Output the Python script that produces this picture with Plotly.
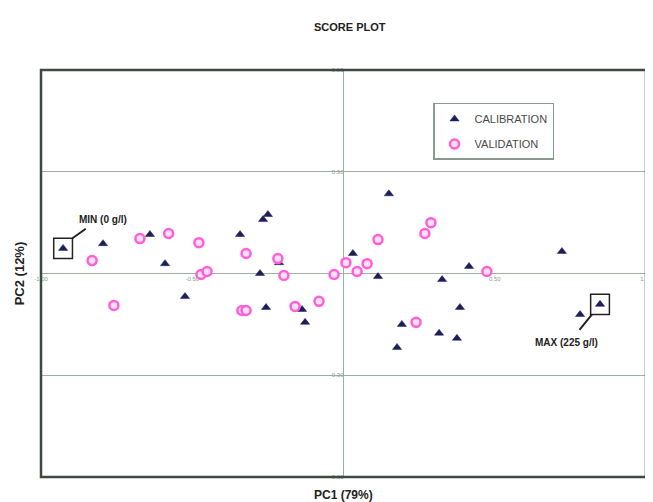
import plotly.graph_objects as go

# PCA scores
cal_x = [-0.927, -0.795, -0.640, -0.590, -0.524, -0.342, -0.266, -0.250, -0.276, -0.213,
         -0.256, -0.137, -0.127, -0.031, 0.150, 0.031, 0.114, 0.326, 0.415, 0.385,
         0.193, 0.177, 0.316, 0.375, 0.722, 0.782, 0.848]
cal_y = [0.074, 0.088, 0.115, 0.029, -0.068, 0.115, 0.159, 0.174, 0.000, 0.032,
         -0.100, -0.106, -0.144, -0.003, 0.235, 0.059, -0.009, -0.018, 0.021, -0.100,
         -0.150, -0.218, -0.176, -0.191, 0.065, -0.121, -0.091]

val_x = [-0.831, -0.759, -0.673, -0.578, -0.478, -0.471, -0.451, -0.322, -0.217, -0.197,
         -0.336, -0.322, -0.160, -0.081, -0.031, 0.008, 0.045, 0.078, 0.114, 0.269,
         0.289, 0.474, 0.240]
val_y = [0.038, -0.094, 0.103, 0.118, 0.091, -0.003, 0.006, 0.059, 0.044, -0.006,
         -0.109, -0.109, -0.097, -0.082, -0.003, 0.032, 0.006, 0.029, 0.100, 0.118,
         0.150, 0.006, -0.144]

x_ticks = [-1.0, -0.5, 0.5, 1.0]
x_tick_labels = ["-1.00", "-0.50", "0.50", "1.00"]
y_ticks = [-0.6, -0.3, 0.3, 0.6]
y_tick_labels = ["-0.60", "-0.30", "0.30", "0.60"]

min_idx = 0
max_idx = 26
min_label = "MIN (0 g/l)"
max_label = "MAX (225 g/l)"

FONT = "Liberation Sans, Arial, sans-serif"
GRID = "#9db3a2"
FRAME = "#3c4a40"

fig = go.Figure()
fig.add_trace(go.Scatter(
    x=cal_x, y=cal_y, mode="markers", name="CALIBRATION",
    legendgroup="a",
    marker=dict(symbol="triangle-up", size=8, color="#1c1f5a",
                line=dict(width=0.5, color="#1c1f5a")),
))
fig.add_trace(go.Scatter(
    x=val_x, y=val_y, mode="markers", name="VALIDATION",
    legendgroup="b",
    marker=dict(symbol="circle", size=9, color="#ffe0f7",
                line=dict(width=2.5, color="#ff5fd8")),
))

dx, dy = 0.031, 0.030
shapes = [
    dict(type="rect", xref="paper", yref="paper", x0=0, y0=0, x1=1, y1=1,
         line=dict(color=FRAME, width=2.5)),
    dict(type="rect", xref="x", yref="y",
         x0=cal_x[min_idx] - dx, x1=cal_x[min_idx] + dx,
         y0=cal_y[min_idx] - dy, y1=cal_y[min_idx] + dy,
         line=dict(color="#222", width=1.5)),
    dict(type="rect", xref="x", yref="y",
         x0=cal_x[max_idx] - dx, x1=cal_x[max_idx] + dx,
         y0=cal_y[max_idx] - dy, y1=cal_y[max_idx] + dy,
         line=dict(color="#222", width=1.5)),
    dict(type="line", xref="x", yref="y",
         x0=cal_x[min_idx] + dx, y0=cal_y[min_idx] + dy,
         x1=cal_x[min_idx] + 0.075, y1=cal_y[min_idx] + 0.058,
         line=dict(color="#222", width=2)),
    dict(type="line", xref="x", yref="y",
         x0=cal_x[max_idx] - 0.027, y0=cal_y[max_idx] - dy,
         x1=cal_x[max_idx] - 0.068, y1=cal_y[max_idx] - 0.075,
         line=dict(color="#222", width=2)),
]

annotations = [
    dict(text="<b>" + min_label + "</b>", xref="x", yref="y",
         x=cal_x[min_idx] + 0.045, y=cal_y[min_idx] + 0.085,
         xanchor="left", yanchor="middle", showarrow=False,
         font=dict(family=FONT, size=10, color="#222")),
    dict(text="<b>" + max_label + "</b>", xref="x", yref="y",
         x=cal_x[max_idx], y=cal_y[max_idx] - 0.112,
         xanchor="right", yanchor="middle", showarrow=False,
         font=dict(family=FONT, size=10, color="#222")),
    dict(text="<b>SCORE PLOT</b>", xref="paper", yref="paper", x=0.511, y=1.106,
         xanchor="center", yanchor="middle", showarrow=False,
         font=dict(family=FONT, size=11, color="#222")),
    dict(text="<b>PC1 (79%)</b>", xref="paper", yref="paper", x=0.5, y=-0.044,
         xanchor="center", yanchor="middle", showarrow=False,
         font=dict(family=FONT, size=12, color="#222")),
    dict(text="<b>PC2 (12%)</b>", xref="paper", yref="paper", x=-0.035, y=0.5,
         xanchor="center", yanchor="middle", showarrow=False, textangle=-90,
         font=dict(family=FONT, size=13, color="#222")),
]

# the page body has an 8px default margin, so the figure is sized to fit the window
fig.update_layout(
    width=645, height=494,
    margin=dict(l=33, r=7, t=62, b=25, autoexpand=False),
    paper_bgcolor="white", plot_bgcolor="white",
    font=dict(family=FONT),
    showlegend=True,
    legend=dict(x=0.648, y=0.919, xanchor="left", yanchor="top",
                bgcolor="white", bordercolor="#8a9a8e", borderwidth=1.5,
                font=dict(family=FONT, size=11, color="#4a4a4a"),
                traceorder="grouped", tracegroupgap=6,
                itemsizing="trace"),
    xaxis=dict(range=[-1, 1], tickvals=x_ticks, ticktext=x_tick_labels,
               showgrid=False, zeroline=True, zerolinecolor=GRID, zerolinewidth=1,
               anchor="free", position=0.5, showline=False, ticks="",
               automargin=False,
               tickfont=dict(size=6, color="#8aa08f")),
    yaxis=dict(range=[-0.6, 0.6], tickvals=y_ticks, ticktext=y_tick_labels,
               showgrid=True, gridcolor=GRID, gridwidth=1,
               zeroline=True, zerolinecolor=GRID, zerolinewidth=1,
               anchor="free", position=0.5, showline=False, ticks="",
               automargin=False,
               tickfont=dict(size=6, color="#8aa08f")),
    shapes=shapes,
    annotations=annotations,
)

fig.write_html("out.html")
